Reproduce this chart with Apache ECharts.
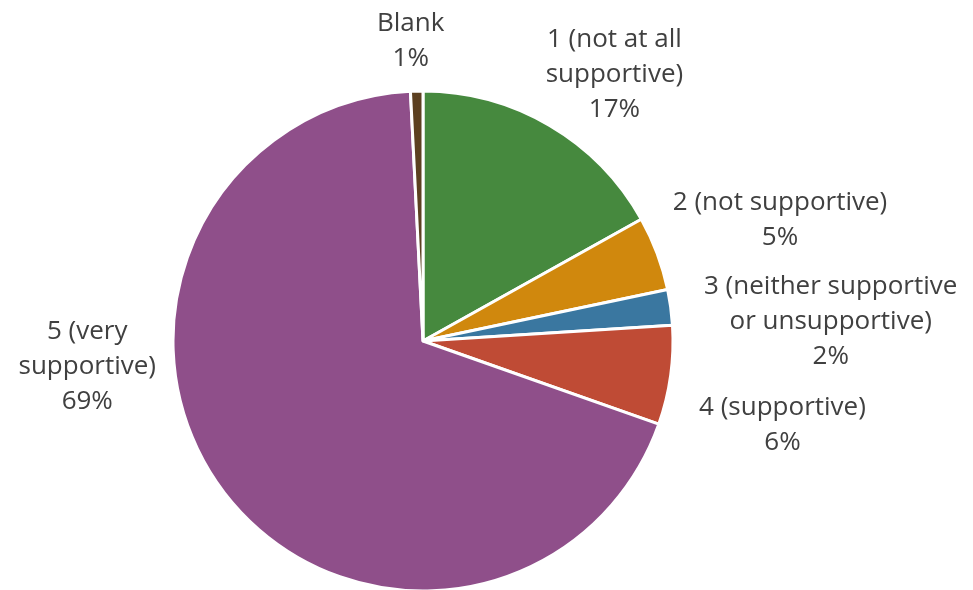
<!DOCTYPE html>
<html>
<head>
<meta charset="utf-8">
<script src="https://cdn.jsdelivr.net/npm/echarts@6/dist/echarts.min.js"></script>
<style>
  html, body { margin: 0; padding: 0; background: #fff; }
  #chart { width: 973px; height: 590px; }
</style>
</head>
<body>
<div id="chart"></div>
<script>
// answers, clockwise from 12 o'clock
var categories = ['1 (not at all\nsupportive)', '2 (not supportive)', '3 (neither supportive\nor unsupportive)', '4 (supportive)', '5 (very\nsupportive)', 'Blank'];
var shares = [16.9, 4.8, 2.3, 6.4, 68.8, 0.8];
var colors = ['#46893e', '#d0880d', '#3a77a0', '#bf4b35', '#8f4f8a', '#5c4020'];
// small nudges of the label boxes (px), same order as categories
var labelNudge = [[-15, -40], [4, -29], [19, -17], [29, -3], [-52, -131], [33, -38]];

var chart = echarts.init(document.getElementById('chart'));

var option = {
    animation: false,
    series: [{
        type: 'pie',
        center: [423, 341],
        radius: 250,
        startAngle: 90,
        clockwise: true,
        data: categories.map(function (c, i) {
            return { name: c, value: shares[i], itemStyle: { color: colors[i] } };
        }),
        itemStyle: { borderColor: '#fff', borderWidth: 3 },
        label: {
            show: true,
            position: 'outside',
            fontFamily: 'Open Sans',
            fontSize: 26,
            lineHeight: 35,
            color: '#404040',
            formatter: function (p) {
                return p.name + '\n' + Math.round(p.percent) + '%';
            }
        },
        labelLine: { show: false, length: 12, length2: 0 },
        // keep echarts' box, center the lines inside it, then nudge
        labelLayout: function (p) {
            var r = p.labelRect;
            var n = labelNudge[p.dataIndex];
            return {
                x: r.x + r.width / 2 + n[0],
                y: r.y + r.height / 2 + n[1],
                align: 'center',
                verticalAlign: 'middle'
            };
        }
    }]
};

chart.setOption(option);
</script>
</body>
</html>
